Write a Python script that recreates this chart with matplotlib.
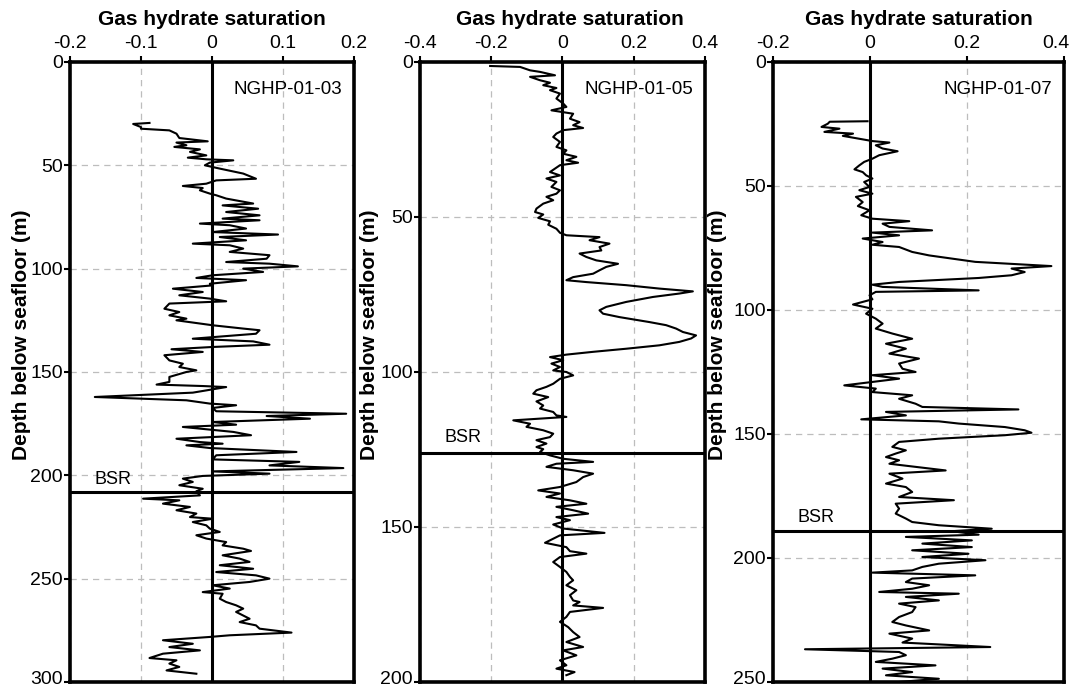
import numpy as np
import matplotlib
matplotlib.use("Agg")
import matplotlib.pyplot as plt
from matplotlib.transforms import ScaledTranslation

plt.rcParams['font.family'] = ['Liberation Sans', 'DejaVu Sans']

# NGHP-01-03 : depth (m) and gas hydrate saturation
depth_03 = [29.5, 30.0, 31.5, 32.3, 33.1, 34.7, 36.8, 38.4, 39.0, 40.3, 41.1, 42.3, 43.5, 45.2, 46.3, 47.1,
            47.6, 48.7, 50.0, 51.6, 54.0, 56.5, 57.3, 58.9, 60.0, 61.0, 62.1, 63.7, 64.5, 66.1, 68.5, 69.4,
            71.0, 72.6, 74.2, 75.8, 76.6, 78.2, 79.0, 80.6, 82.3, 83.5, 84.7, 86.3, 87.9, 88.7, 90.3, 91.9,
            93.5, 95.2, 96.8, 97.6, 98.9, 100.0, 101.6, 103.2, 104.5, 105.6, 107.3, 108.1, 109.7, 111.3,
            112.9, 114.5, 115.8, 116.9, 119.4, 121.0, 122.6, 124.2, 125.0, 127.4, 129.0, 129.8, 131.5,
            133.9, 135.2, 136.8, 137.9, 139.0, 140.3, 141.9, 144.4, 146.0, 147.6, 149.2,
            150.0, 152.4, 154.8, 156.1, 156.8, 157.3, 158.9, 160.0, 162.1, 163.7, 165.3, 166.1, 167.4,
            169.0, 170.2, 171.3, 172.6, 174.2, 175.5, 176.6, 177.7, 179.0, 180.6, 182.3, 183.9, 184.7,
            185.5, 186.8, 188.7, 190.3, 192.3, 193.5, 195.2, 196.5, 198.1, 199.2, 200.3, 201.6, 203.2,
            204.8, 206.5, 207.7, 209.7, 211.3, 212.1, 213.7, 215.3, 216.9, 218.5, 220.2, 221.0, 222.6,
            224.2, 225.8, 227.4, 229.0, 230.6, 232.3, 233.9, 235.5, 236.6, 238.7, 240.3, 241.9, 243.5,
            245.2, 246.8, 248.4, 250.0, 251.6, 253.2, 254.8, 256.5, 257.3, 259.7, 261.3, 262.9, 264.5,
            266.1, 269.4, 271.0, 272.6, 274.2, 276.1, 277.4, 278.2, 279.8, 281.5, 283.1, 284.7, 286.3,
            288.4, 289.5, 291.1, 292.7, 294.4, 296.0]
sat_03 = [-0.088, -0.111, -0.100, -0.100, -0.060, -0.050, -0.046, -0.006, -0.050, -0.036, -0.053, -0.017,
          -0.031, -0.008, -0.034, -0.008, 0.030, -0.003, -0.010, 0.011, 0.044, 0.062, 0.006, -0.008,
          -0.041, -0.013, -0.017, -0.003, 0.006, 0.020, 0.058, 0.015, 0.065, 0.020, 0.067, 0.015, 0.067,
          -0.017, 0.025, 0.048, 0.001, 0.093, 0.011, 0.048, -0.027, 0.025, 0.044, 0.025, 0.081, 0.077,
          0.020, 0.081, 0.121, 0.044, 0.072, 0.001, -0.022, 0.048, -0.003, 0.001, -0.055, -0.013,
          -0.046, -0.003, 0.020, -0.060, -0.067, -0.046, -0.060, -0.036, -0.050, 0.001, 0.044, 0.067,
          0.062, -0.027, 0.058, 0.081, 0.001, -0.057, -0.013, -0.067, -0.060, -0.041, -0.046, -0.022,
          -0.036, -0.060, -0.060, -0.078, -0.013, 0.020, -0.008, -0.027, -0.165, -0.036, -0.003, 0.034,
          0.001, 0.006, 0.189, 0.077, 0.138, 0.001, 0.034, -0.041, -0.008, 0.030, 0.055, -0.050, -0.017,
          0.015, -0.036, -0.003, 0.119, 0.006, 0.001, 0.123, 0.081, 0.185, 0.001, 0.081, -0.013, -0.041,
          -0.027, -0.046, -0.013, -0.022, -0.017, -0.097, -0.046, -0.069, -0.031, -0.050, -0.022, -0.031,
          0.001, -0.027, -0.008, -0.003, 0.011, -0.022, -0.008, 0.020, 0.015, 0.044, 0.055, 0.015, 0.039,
          0.053, 0.011, 0.058, 0.006, 0.062, 0.081, 0.053, 0.001, 0.025, -0.013, 0.015, 0.011, 0.020,
          0.034, 0.044, 0.034, 0.053, 0.039, 0.062, 0.067, 0.112, 0.025, -0.003, -0.069, -0.027, -0.060,
          -0.017, -0.069, -0.088, -0.050, -0.060, -0.046, -0.064, -0.022]

# NGHP-01-05
depth_05 = [1.3, 1.6, 2.7, 3.2, 4.3, 4.8, 5.9, 6.7, 7.5, 8.4, 9.1, 10.2, 11.8, 13.4, 14.5, 15.6, 16.7, 18.3,
            19.4, 20.4, 21.3, 22.0, 23.1, 24.2, 25.8, 27.4, 28.5, 29.6, 30.6, 31.7, 32.5, 33.3, 34.4, 35.5,
            36.6, 37.6, 38.7, 40.3, 41.4, 42.5, 43.5, 44.6, 45.7, 47.3, 48.4, 49.2, 50.3, 51.4, 52.5, 53.8,
            55.1, 55.9, 56.5, 57.5, 58.6, 59.7, 60.8, 61.8, 62.9, 64.0, 65.1, 66.1, 67.2, 68.3, 69.4, 70.4,
            71.0, 72.0, 73.1, 74.0, 74.7, 75.8, 77.4, 79.0, 80.1, 81.2, 82.3, 83.9, 84.9, 86.0, 87.1, 88.2,
            89.2, 90.3, 91.4, 92.5, 93.5, 94.4, 95.2, 96.2, 97.3, 98.4, 99.5,
            100.0, 101.1, 102.2, 103.8, 104.8, 105.9, 107.0, 108.1, 109.5, 110.8, 111.8, 112.9, 114.0,
            114.5, 115.6, 116.7, 117.7, 118.8, 119.9, 121.0, 122.0, 123.1, 124.2, 124.9, 125.8, 126.9,
            128.0, 129.0, 129.6, 130.6, 131.7, 132.8, 133.9, 135.5, 137.1, 138.2, 139.2, 140.3, 141.4,
            142.5, 143.5, 144.6, 145.7, 146.8, 147.8, 149.2, 150.5, 151.9, 152.7, 153.8, 155.1, 156.5,
            157.8, 158.6, 159.7, 161.3, 162.9, 164.5, 166.1, 167.2, 168.8, 170.4, 172.0, 173.7, 174.2,
            175.3, 176.1, 177.4, 179.0, 180.6, 182.3, 183.9, 185.5, 187.1, 188.7, 189.8, 191.4, 193.0,
            194.6, 195.7, 196.8, 197.8]
sat_05 = [-0.203, -0.119, -0.091, -0.063, -0.021, -0.091, -0.063, -0.035, -0.054, -0.017, -0.035, -0.007,
          -0.017, 0.002, 0.011, -0.031, 0.030, 0.021, 0.048, 0.030, 0.058, 0.002, -0.017, -0.026, -0.007,
          -0.017, 0.011, 0.002, 0.039, 0.011, 0.044, -0.007, -0.021, -0.035, -0.007, -0.045, -0.017,
          -0.031, -0.007, -0.017, -0.045, -0.026, -0.054, -0.073, -0.077, -0.054, -0.068, -0.035, -0.040,
          -0.017, -0.007, 0.011, 0.104, 0.076, 0.132, 0.104, 0.109, 0.048, 0.067, 0.095, 0.156, 0.123,
          0.104, 0.086, 0.030, 0.011, 0.067, 0.179, 0.272, 0.366, 0.328, 0.254, 0.179, 0.123, 0.104,
          0.114, 0.160, 0.244, 0.291, 0.319, 0.338, 0.375, 0.361, 0.328, 0.272, 0.179, 0.086, 0.011,
          -0.035, 0.002, -0.031, -0.007, -0.026,
          0.011, 0.030, -0.007, -0.026, -0.045, -0.073, -0.082, -0.040, -0.073, -0.054, -0.063, -0.026,
          -0.017, 0.011, -0.138, -0.091, -0.101, -0.054, -0.026, -0.035, -0.073, -0.045, -0.073, -0.054,
          -0.063, -0.035, 0.002, 0.086, -0.017, -0.045, 0.030, 0.086, 0.058, 0.039, -0.007, -0.068,
          -0.007, -0.045, 0.021, 0.067, -0.017, 0.030, 0.072, -0.017, 0.021, -0.026, 0.002, 0.118,
          -0.007, -0.026, -0.049, 0.011, 0.021, 0.067, -0.007, -0.026, -0.007, 0.011, 0.021, 0.030,
          0.011, 0.039, 0.021, 0.030, 0.048, 0.030, 0.114, 0.021, 0.011, -0.007, 0.016, 0.030, 0.048,
          0.011, 0.058, 0.002, 0.039, -0.007, 0.011, -0.017, 0.034, 0.011]

# NGHP-01-07
depth_07 = [23.9, 24.1, 24.9, 26.2, 26.9, 28.2, 28.9, 29.8, 31.2, 31.9, 32.5, 33.6, 34.9, 36.0, 37.6, 39.0,
            40.3, 41.7, 43.3, 44.4, 45.7, 47.0, 48.4, 50.4, 51.7, 53.1, 54.4, 56.5, 58.1, 59.8, 61.8, 63.2,
            64.2, 65.2, 66.5, 67.9, 68.8, 69.9, 71.2, 72.6, 73.7, 74.6, 76.6, 78.0, 79.3, 80.6, 82.3, 83.3,
            84.7, 86.0, 87.1, 88.7, 89.8, 90.7, 92.1, 92.7, 94.1, 95.7, 97.8, 99.5, 101.5, 103.5, 105.5,
            107.5, 109.5, 111.6, 113.6, 115.6, 117.6, 119.6, 121.6, 123.7,
            125.0, 126.3, 127.7, 129.0, 130.4, 131.7, 133.1, 134.4, 135.8, 137.8, 139.1, 140.1, 141.1,
            142.5, 144.1, 144.9, 145.8, 147.2, 148.5, 149.5, 150.5, 151.9, 153.2, 155.2, 156.6, 157.9,
            159.3, 160.6, 162.0, 164.7, 166.0, 168.0, 170.0, 171.4, 173.4, 175.4, 176.7, 178.1, 180.1,
            182.1, 184.1, 185.5, 186.8, 188.2, 189.2, 190.6, 191.5, 192.9, 194.2, 195.6, 196.9, 198.3,
            199.6, 200.9, 202.3, 203.6, 205.0, 205.9, 207.0, 208.3, 209.7, 211.0, 212.4, 213.7, 214.4,
            215.7, 217.1, 218.4, 219.8, 221.8, 223.8, 225.8, 227.2, 229.2, 230.5, 232.5, 234.1, 235.9,
            236.8, 237.9, 239.2, 240.6, 241.9, 243.3, 244.6, 246.0, 247.3, 248.7, 250.0]
sat_07 = [-0.005, -0.083, -0.087, -0.100, -0.063, -0.094, -0.035, -0.056, -0.015, 0.005, 0.040, 0.012,
          0.026, 0.057, 0.019, 0.005, -0.012, -0.022, -0.032, -0.015, -0.008, 0.005, -0.012, -0.001,
          -0.022, 0.005, -0.029, -0.015, -0.025, -0.001, -0.018, 0.005, 0.081, 0.026, 0.040, 0.128,
          0.005, 0.060, -0.015, 0.026, 0.005, 0.060, 0.087, 0.122, 0.169, 0.217, 0.374, 0.292, 0.319,
          0.292, 0.224, 0.060, 0.005, 0.026, 0.224, 0.012, -0.001, 0.005, -0.035, 0.005, -0.008, 0.012,
          0.026, 0.012, 0.046, 0.087, 0.033, 0.074, 0.040, 0.101, 0.060, 0.067,
          0.094, 0.005, 0.060, 0.005, -0.053, 0.012, 0.005, 0.087, 0.060, 0.094, 0.108, 0.306, 0.033,
          0.074, -0.018, 0.142, 0.183, 0.278, 0.319, 0.333, 0.278, 0.142, 0.060, 0.046, 0.074, 0.053,
          0.033, 0.060, 0.040, 0.156, 0.040, 0.067, 0.033, 0.074, 0.087, 0.060, 0.173, 0.053, 0.060,
          0.053, 0.074, 0.087, 0.142, 0.251, 0.169, 0.224, 0.074, 0.210, 0.108, 0.210, 0.087, 0.203,
          0.108, 0.238, 0.142, 0.108, 0.087, 0.005, 0.217, 0.087, 0.074, 0.122, 0.087, 0.019, 0.183,
          0.074, 0.142, 0.060, 0.094, 0.087, 0.060, 0.046, 0.074, 0.122, 0.040, 0.087, 0.067, 0.248,
          -0.134, 0.060, 0.074, 0.046, 0.012, 0.135, 0.026, 0.087, 0.033, 0.142, 0.060]

wells = ['NGHP-01-03', 'NGHP-01-05', 'NGHP-01-07']
bsr_depth = [208, 126, 189]
x_ticks = [[-0.2, -0.1, 0, 0.1, 0.2], [-0.4, -0.2, 0, 0.2, 0.4], [-0.2, 0, 0.2, 0.4]]
x_labels = [['-0.2', '-0.1', '0', '0.1', '0.2'], ['-0.4', '-0.2', '0', '0.2', '0.4'], ['-0.2', '0', '0.2', '0.4']]
max_depth = [300, 200, 250]
depths = [depth_03, depth_05, depth_07]
sats = [sat_03, sat_05, sat_07]

fig = plt.figure(figsize=(10.73, 6.9), dpi=100)
boxes = [[0.0652, 0.0116, 0.2647, 0.8986],
         [0.3914, 0.0116, 0.2656, 0.8986],
         [0.7204, 0.0116, 0.2712, 0.8986]]
ylab_x = [-0.172, -0.178, -0.19]
title_x = [0.5, 0.526, 0.5]

for i in range(3):
    ax = fig.add_axes(boxes[i])
    xt = x_ticks[i]
    ax.set_xlim(xt[0], xt[-1])
    ax.set_ylim(max_depth[i], 0)
    ax.set_xticks(xt)
    ax.set_xticklabels(x_labels[i])
    ax.set_yticks(np.arange(0, max_depth[i] + 1, 50))
    ax.xaxis.tick_top()
    ax.tick_params(axis='x', direction='out', length=4, width=1.5, pad=3, labelsize=14)
    ax.tick_params(axis='y', direction='out', length=4, width=1.5, pad=1, labelsize=14)
    ax.grid(True, ls=(0, (5, 4)), color='#bdbdbd', lw=0.9)
    for s in ax.spines.values():
        s.set_linewidth(2.6)
    ax.axvline(0, color='black', lw=2.2, zorder=3)
    ax.axhline(bsr_depth[i], color='black', lw=2.2, zorder=3)
    ax.plot(sats[i], depths[i], color='black', lw=1.5, zorder=4)
    ax.text(0.085, bsr_depth[i] - 2, 'BSR', transform=ax.get_yaxis_transform(),
            ha='left', va='bottom', fontsize=13)
    ax.text(0.96, 0.955, wells[i], transform=ax.transAxes, ha='right', va='center', fontsize=13.5)
    ax.text(title_x[i], 1.068, 'Gas hydrate saturation', transform=ax.transAxes,
            ha='center', va='center', fontsize=15, fontweight='bold')
    ax.text(ylab_x[i], 0.56, 'Depth below seafloor (m)', transform=ax.transAxes, rotation=90,
            ha='center', va='center', fontsize=15, fontweight='bold')
    # keep the bottom depth label inside the figure
    ylabs = ax.get_yticklabels()
    ylabs[-1].set_transform(ylabs[-1].get_transform() + ScaledTranslation(0, 3 / 72, fig.dpi_scale_trans))
    if i == 2:
        xlabs = ax.get_xticklabels()
        xlabs[-1].set_transform(xlabs[-1].get_transform() + ScaledTranslation(-6 / 72, 0, fig.dpi_scale_trans))

fig.savefig('out.png', dpi=100)
